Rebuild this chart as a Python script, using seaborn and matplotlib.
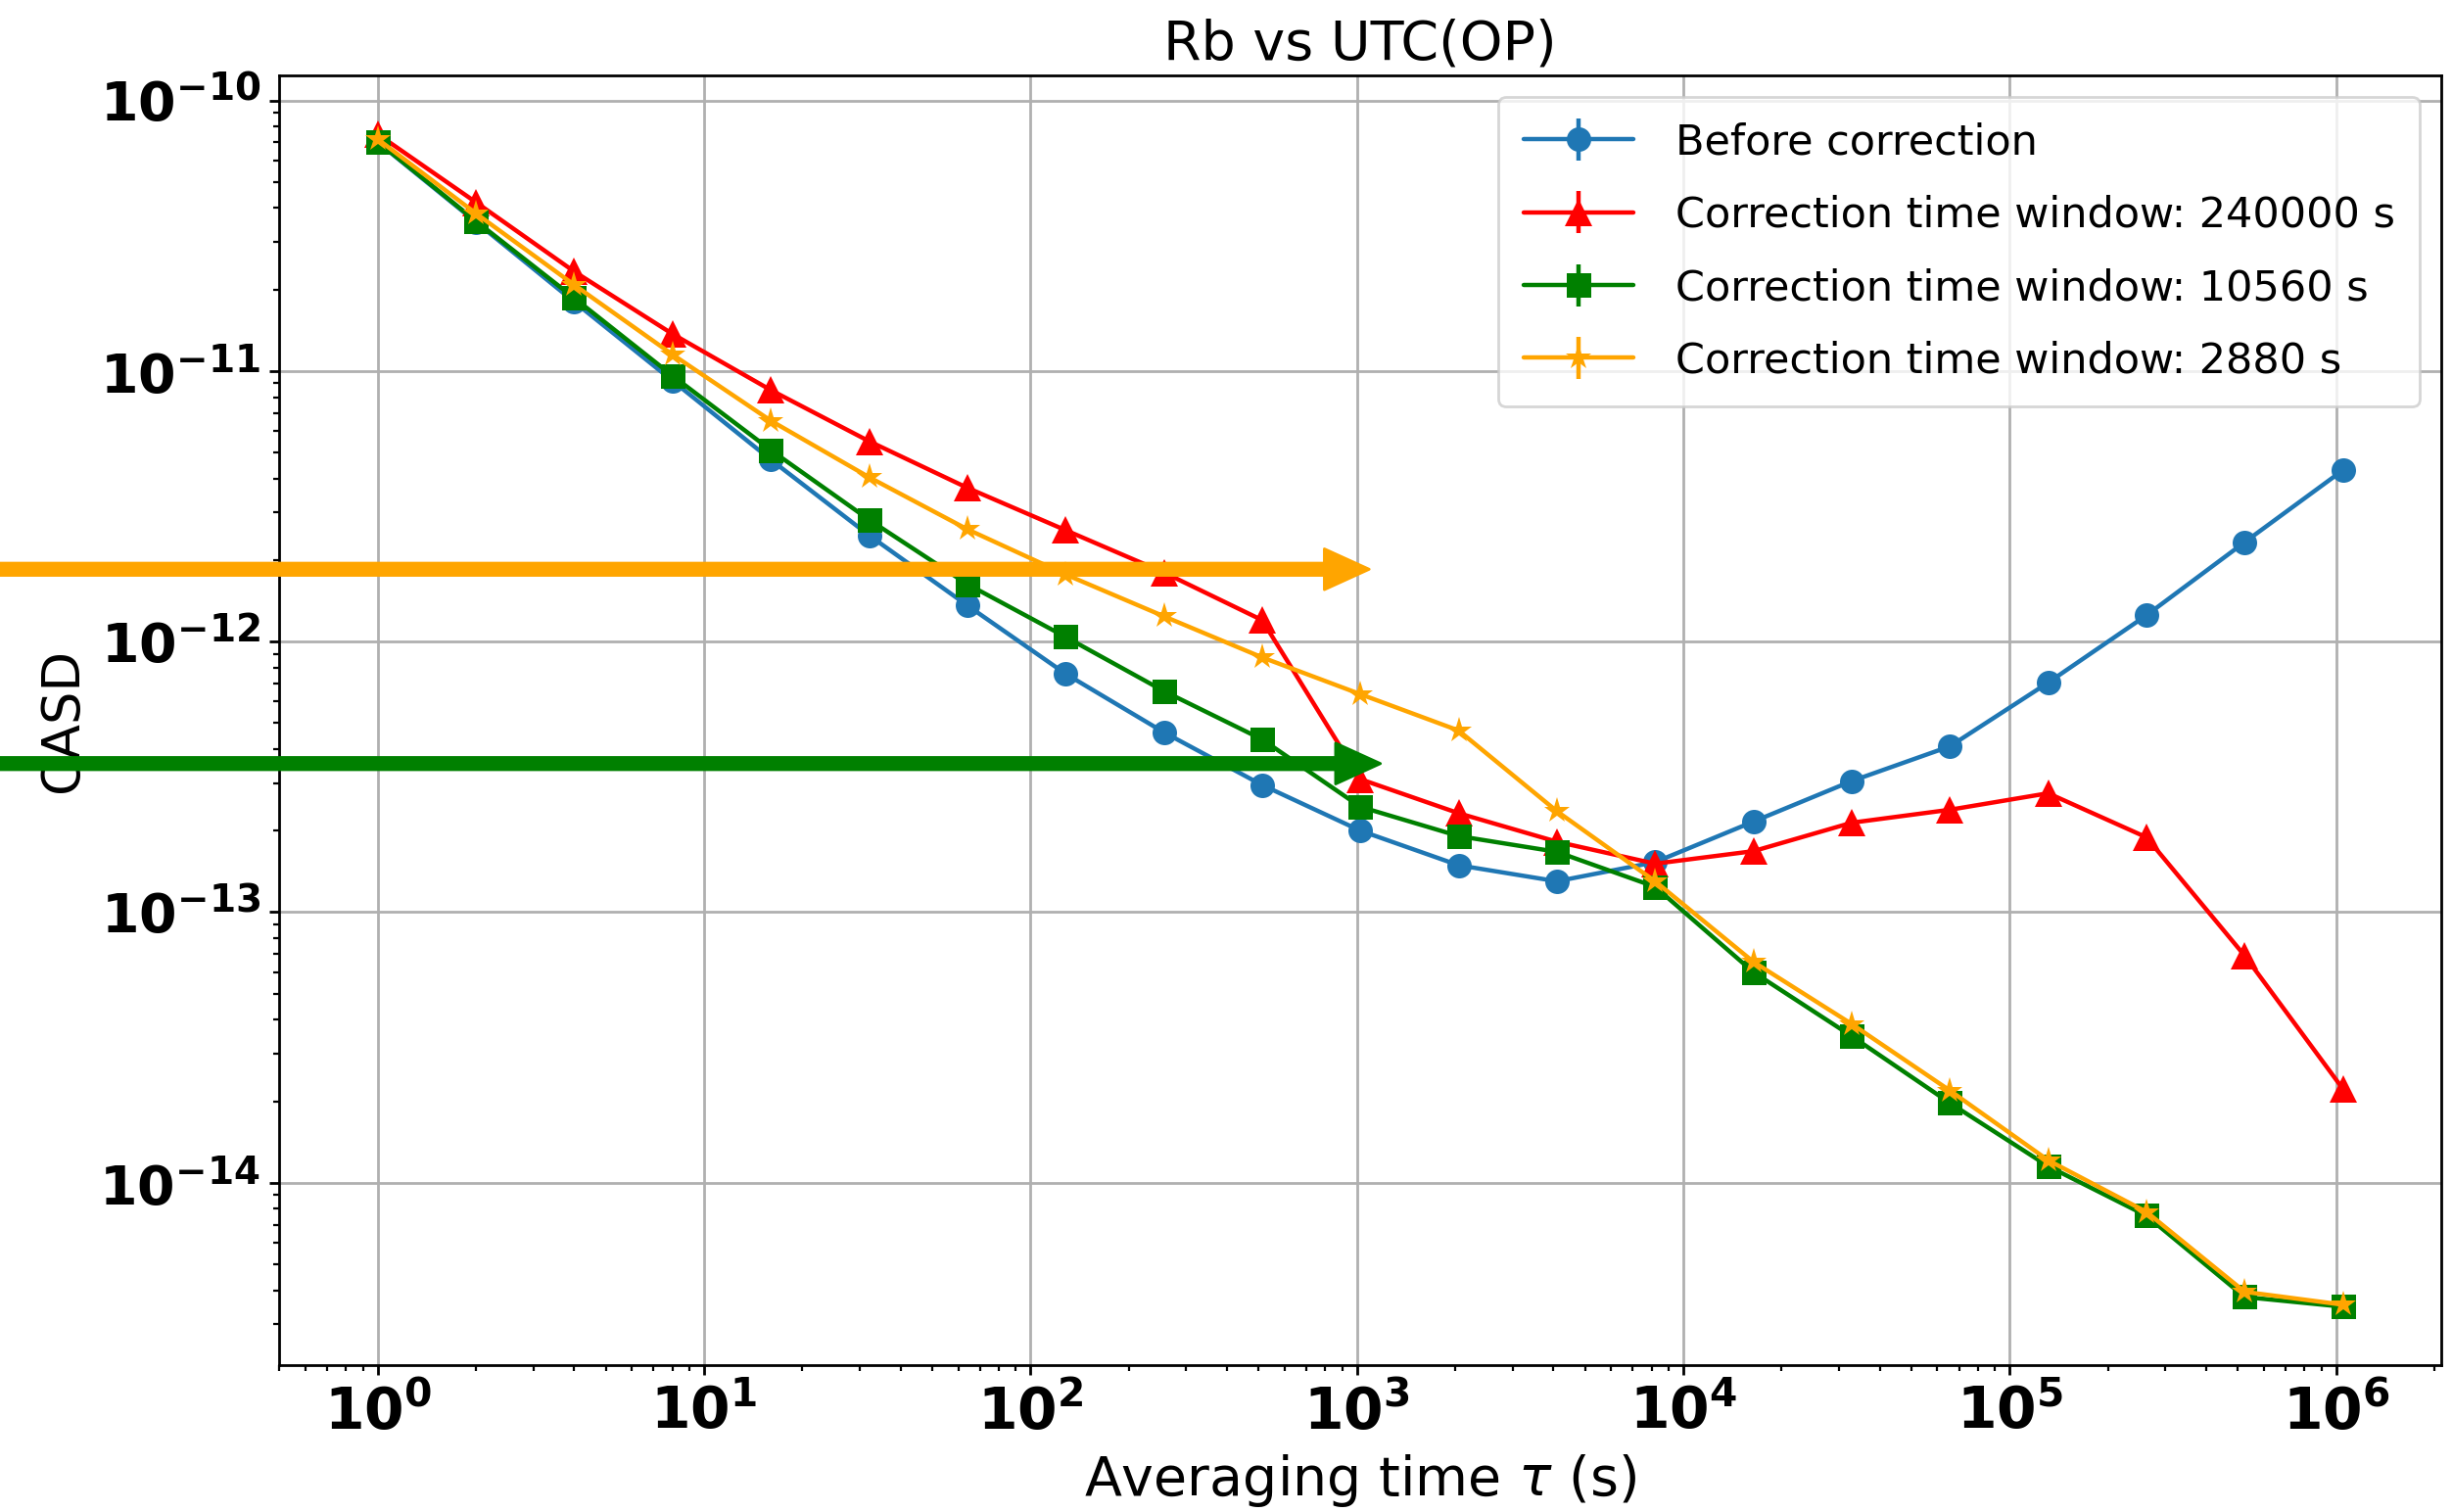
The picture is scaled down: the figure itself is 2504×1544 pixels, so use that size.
import numpy as np
import matplotlib
matplotlib.use("Agg")
import matplotlib.pyplot as plt
import seaborn as sns
from matplotlib.ticker import FuncFormatter, LogLocator, NullFormatter
from matplotlib.collections import LineCollection
from matplotlib.container import ErrorbarContainer
from matplotlib.lines import Line2D
from matplotlib.patches import FancyArrowPatch

##########################################################################
# averaging times (s) and CASD values
tau = [1, 2, 4, 8, 16, 32, 64, 128, 256, 512, 1024, 2048, 4096, 8192,
       16384, 32768, 65536, 131072, 262144, 524288, 1048576]

before = [7.0e-11, 3.55e-11, 1.8e-11, 9.2e-12, 4.7e-12, 2.47e-12, 1.36e-12,
          7.6e-13, 4.62e-13, 2.95e-13, 2.0e-13, 1.49e-13, 1.30e-13, 1.53e-13,
          2.16e-13, 3.05e-13, 4.1e-13, 7.05e-13, 1.25e-12, 2.33e-12, 4.3e-12]
win_240000 = [7.5e-11, 4.2e-11, 2.33e-11, 1.37e-11, 8.5e-12, 5.5e-12, 3.7e-12,
              2.58e-12, 1.8e-12, 1.2e-12, 3.1e-13, 2.32e-13, 1.82e-13, 1.51e-13,
              1.68e-13, 2.14e-13, 2.39e-13, 2.75e-13, 1.89e-13, 6.9e-14, 2.22e-14]
win_10560 = [7.03e-11, 3.58e-11, 1.86e-11, 9.6e-12, 5.1e-12, 2.82e-12, 1.63e-12,
             1.04e-12, 6.56e-13, 4.35e-13, 2.45e-13, 1.91e-13, 1.67e-13, 1.24e-13,
             6.0e-14, 3.48e-14, 1.97e-14, 1.15e-14, 7.55e-15, 3.78e-15, 3.48e-15]
win_2880 = [7.19e-11, 3.82e-11, 2.08e-11, 1.15e-11, 6.55e-12, 4.05e-12, 2.6e-12,
            1.77e-12, 1.24e-12, 8.74e-13, 6.39e-13, 4.69e-13, 2.36e-13, 1.30e-13,
            6.55e-14, 3.86e-14, 2.19e-14, 1.21e-14, 7.8e-15, 3.95e-15, 3.54e-15]

labels = ["Before correction",
          "Correction time window: 240000 s",
          "Correction time window: 10560 s",
          "Correction time window: 2880 s"]
##########################################################################

series = [before, win_240000, win_10560, win_2880]
colors = ["#1f77b4", "red", "green", "orange"]
markers = ["o", "^", "s", "*"]
msizes = [9, 10, 9, 10]

sns.set_style("ticks", {"text.color": "black", "axes.labelcolor": "black",
                        "xtick.color": "black", "ytick.color": "black"})
plt.rcParams["font.family"] = ["DejaVu Sans"]
plt.rcParams["mathtext.fontset"] = "dejavusans"

fig, ax = plt.subplots(figsize=(12.52, 7.72), dpi=200)
fig.subplots_adjust(left=0.114, right=0.9956, top=0.950, bottom=0.097)
ax.set_xscale("log")
ax.set_yscale("log")

handles = []
for vals, c, m, ms, lab in zip(series, colors, markers, msizes, labels):
    sns.lineplot(x=tau, y=vals, color=c, marker=m, markersize=ms,
                 markeredgecolor=c, markeredgewidth=0, linewidth=1.6, ax=ax)
    # errorbar-style legend entry
    pl = Line2D([], [], color=c, marker=m, markersize=ms, lw=1.6, mew=0)
    bar = LineCollection([], colors=c, linewidths=1.6)
    handles.append(ErrorbarContainer((pl, (), (bar,)), has_xerr=False,
                                     has_yerr=True, label=lab))

# freeze limits, then arrows coming in from the left edge of the figure
ax.set_xlim(ax.get_xlim())
ax.set_ylim(ax.get_ylim())
x_left = ax.transData.inverted().transform(fig.transFigure.transform((0, 0)))[0]
for tip, yv, c in [(1090, 1.85e-12, "orange"), (1180, 3.54e-13, "green")]:
    arr = FancyArrowPatch((x_left, yv), (tip, yv), transform=ax.transData,
                          arrowstyle="simple,head_length=1.1,head_width=1.0,tail_width=0.3",
                          mutation_scale=15, color=c, clip_on=False, zorder=3,
                          shrinkA=0, shrinkB=0)
    ax.add_patch(arr)

fmt = FuncFormatter(lambda v, p: r"$\mathbf{10^{%d}}$" % round(np.log10(v)))
for axis in (ax.xaxis, ax.yaxis):
    axis.set_major_locator(LogLocator(base=10, numticks=20))
    axis.set_minor_locator(LogLocator(base=10, subs=np.arange(2, 10), numticks=100))
    axis.set_major_formatter(fmt)
    axis.set_minor_formatter(NullFormatter())
ax.tick_params(which="major", labelsize=21, length=3.5, width=1)
ax.tick_params(axis="y", which="major", labelsize=20)
ax.tick_params(which="minor", length=2, width=0.8)

ax.grid(True, which="major", color="#b0b0b0", lw=1.0)
for sp in ax.spines.values():
    sp.set_color("black")
    sp.set_linewidth(1.0)

ax.set_title("Rb vs UTC(OP)", fontsize=20)
ax.set_xlabel("Averaging time $\\tau$ (s)", fontsize=20)
ax.set_ylabel("CASD", fontsize=19)

ax.legend(handles=handles, loc="upper right", fontsize=15.5, handlelength=2.6,
          handletextpad=1.0, labelspacing=0.75, borderpad=0.6,
          framealpha=0.8, fancybox=True)

fig.savefig("out.png", dpi=200)
plt.close("all")
